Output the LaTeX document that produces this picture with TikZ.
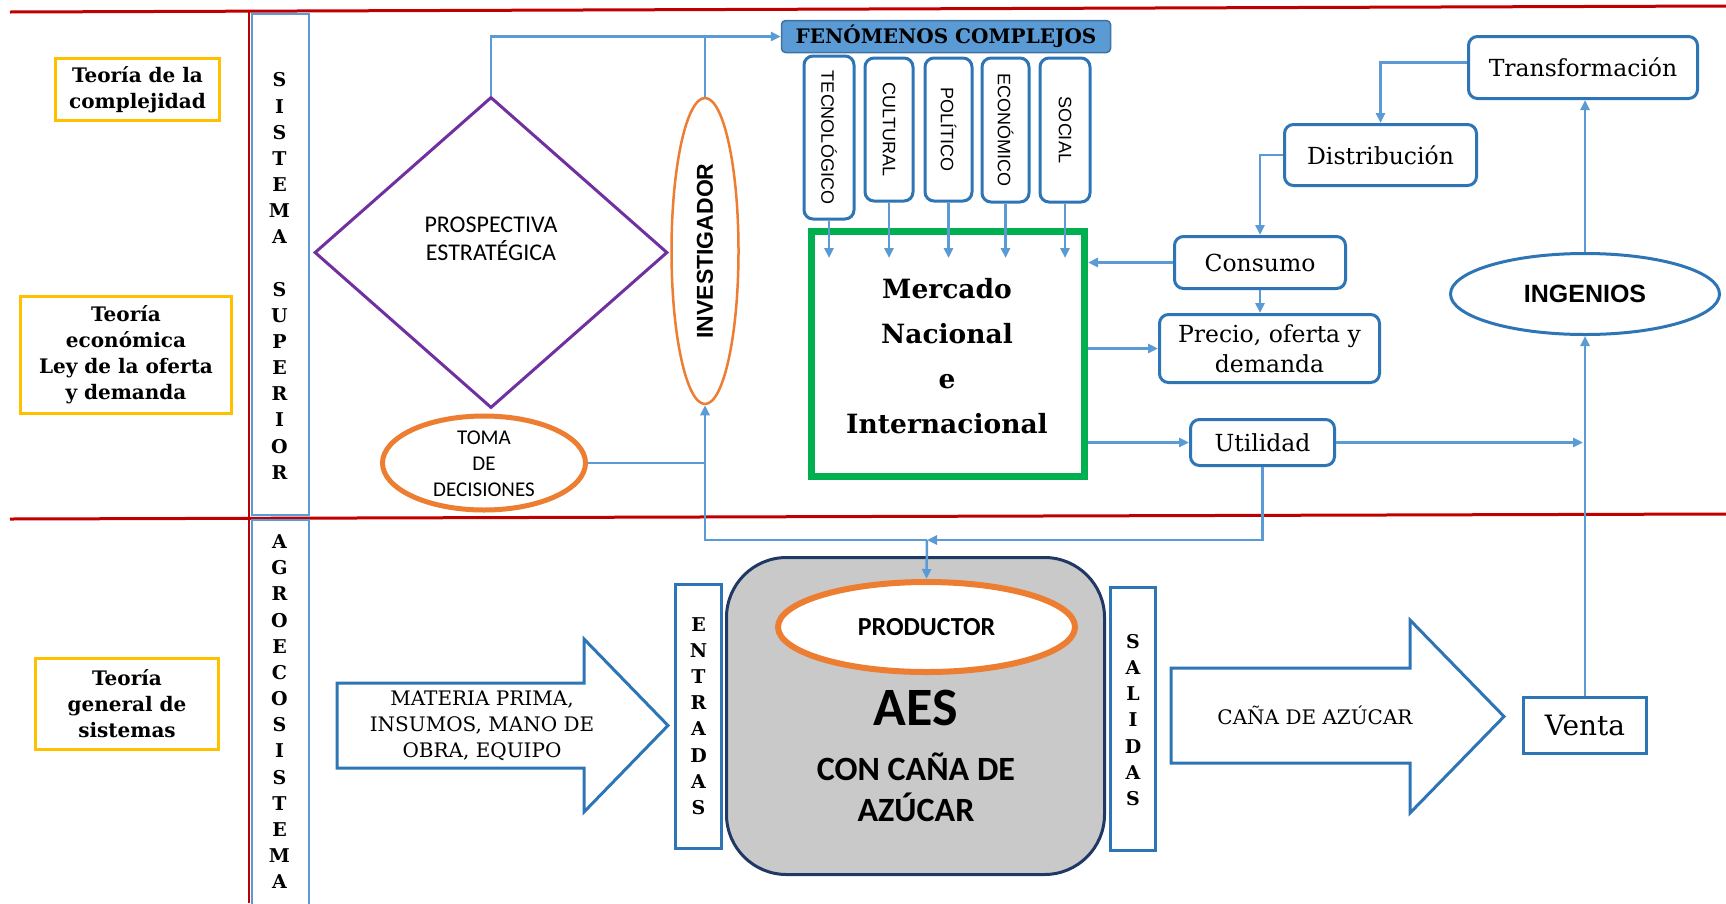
\documentclass[tikz,border=0pt]{standalone}
\usepackage{fontspec}
\usetikzlibrary{arrows.meta,shapes.geometric,calc}
\newfontfamily\slab{DejaVu Serif}
\newfontfamily\carl{Carlito}
\newfontfamily\arial{Liberation Sans}
\definecolor{redl}{HTML}{C00000}
\definecolor{gold}{HTML}{FFC000}
\definecolor{cline}{HTML}{5B9BD5}
\definecolor{bbord}{HTML}{2E75B6}
\definecolor{grn}{HTML}{00B050}
\definecolor{purp}{HTML}{7030A0}
\definecolor{orng}{HTML}{ED7D31}
\definecolor{navy}{HTML}{203864}
\definecolor{aesgray}{HTML}{C9C9C9}
\definecolor{fenfill}{HTML}{5B9BD5}
\definecolor{fenbord}{HTML}{41719C}
\tikzset{
  conn/.style={draw=cline, line width=2.5pt},
  arr/.style={conn, -{Triangle[length=10pt,width=9pt]}},
  ybox/.style={draw=gold, line width=3pt, inner sep=0pt, align=center, font=\slab\bfseries\fontsize{20}{26}\selectfont},
  colbox/.style={draw=cline, line width=2pt, inner sep=0pt},
  iobox/.style={draw=bbord, line width=3pt, inner sep=0pt},
  letters/.style={align=center, inner sep=0pt, font=\slab\bfseries\fontsize{19}{26.15}\selectfont},
  rbox/.style={draw=bbord, line width=3pt, rounded corners=9pt, fill=white, inner sep=0pt, align=center, font=\slab\fontsize{23.5}{30}\selectfont},
  tall/.style={draw=bbord, line width=3pt, rounded corners=9pt, rotate=-90, inner sep=0pt, font=\arial\fontsize{18}{20}\selectfont},
  bigarrow/.style={draw=bbord, line width=3pt, fill=white, line join=miter},
  txt/.style={inner sep=0pt, align=center},
}
\begin{document}
\begin{tikzpicture}[x=1pt,y=-1pt]
\fill[white] (0,0) rectangle (1726,903);
\useasboundingbox (0,0) rectangle (1726,903);

% level separators
\draw[redl, line width=3pt] (10,12) -- (1726,6);
\draw[redl, line width=3pt] (10,519) -- (1726,514);
\draw[redl, line width=2pt] (248.5,12) -- (248.5,903);

% theories
\node[ybox, minimum width=164pt, minimum height=62pt] (teo1) at (137.5,89.5) {Teoría de la\\complejidad};
\node[ybox, minimum width=211pt, minimum height=117pt] (teo2) at (126,355) {Teoría\\económica\\Ley de la oferta\\y demanda};
\node[ybox, minimum width=183pt, minimum height=91pt] (teo3) at (127,704) {Teoría\\general de\\sistemas};

% system columns
\node[colbox, minimum width=57pt, minimum height=501pt] (sup) at (280,264) {};
\node[letters] (supt) at (279.5,276) {S\\I\\S\\T\\E\\M\\A\\[26.15pt]S\\U\\P\\E\\R\\I\\O\\R};
\node[colbox, minimum width=57pt, minimum height=386pt] (agro) at (280,713) {};
\node[letters] (agrot) at (279.5,711.7) {A\\G\\R\\O\\E\\C\\O\\S\\I\\S\\T\\E\\M\\A};

% upper system
\node[diamond, draw=purp, line width=3pt, minimum width=353pt, minimum height=311pt, inner sep=0pt, aspect=1.135] (prosp) at (491,252.5) {};
\node[txt, font=\carl\fontsize{24}{28}\selectfont] (prospt) at (491,239) {PROSPECTIVA\\ESTRATÉGICA};

\node[ellipse, draw=orng, line width=2.5pt, minimum width=67pt, minimum height=306pt, inner sep=0pt] (inv) at (705,251) {};
\node[txt, rotate=90, font=\arial\bfseries\fontsize{23}{26}\selectfont] (invt) at (705,251) {INVESTIGADOR};

\node[ellipse, draw=orng, line width=5pt, minimum width=203pt, minimum height=94pt, inner sep=0pt] (toma) at (484,463) {};
\node[txt, font=\carl\fontsize{21}{26}\selectfont] (tomat) at (484,464) {TOMA\\DE\\DECISIONES};

\node[draw=fenbord, fill=fenfill, line width=1.5pt, rounded corners=4pt, minimum width=329pt, minimum height=32pt, inner sep=0pt, font=\slab\bfseries\fontsize{20}{22}\selectfont] (fen) at (946,36.5) {FENÓMENOS COMPLEJOS};

\node[tall, minimum width=163pt, minimum height=50pt] (tec) at (829,137.5) {TECNOLÓGICO};
\node[tall, minimum width=143pt, minimum height=48pt] (cul) at (889,129.5) {CULTURAL};
\node[tall, minimum width=143pt, minimum height=47pt] (pol) at (948.5,129.5) {POLÍTICO};
\node[tall, minimum width=144pt, minimum height=47pt] (eco) at (1005.5,130) {ECONÓMICO};
\node[tall, minimum width=144pt, minimum height=50pt] (soc) at (1065,130) {SOCIAL};

\node[draw=grn, line width=7pt, minimum width=273pt, minimum height=245pt, inner sep=0pt] (merc) at (948,354) {};
\node[txt, font=\slab\bfseries\fontsize{26.5}{45}\selectfont] (merct) at (947,356) {Mercado\\Nacional\\e\\Internacional};

\node[rbox, minimum width=171pt, minimum height=52pt] (cons) at (1260,262.5) {Consumo};
\node[rbox, minimum width=220pt, minimum height=68pt] (prec) at (1269.5,348.5) {Precio, oferta y\\demanda};
\node[rbox, minimum width=144pt, minimum height=46pt] (util) at (1262.5,442.5) {Utilidad};
\node[rbox, minimum width=192pt, minimum height=61pt] (dist) at (1380.5,155) {Distribución};
\node[rbox, minimum width=229pt, minimum height=62pt] (trans) at (1583,67.5) {Transformación};
\node[ellipse, draw=bbord, line width=3pt, minimum width=269pt, minimum height=81pt, inner sep=0pt, font=\arial\bfseries\fontsize{25}{28}\selectfont] (ing) at (1585,294) {INGENIOS};
\node[draw=bbord, line width=3pt, minimum width=123pt, minimum height=56pt, inner sep=0pt, font=\slab\fontsize{28}{32}\selectfont] (venta) at (1585,725.5) {Venta};

% lower system
\draw[bigarrow] (337,683) -- (584,683) -- (584,639) -- (668,725.5) -- (584,812) -- (584,768) -- (337,768) -- cycle;
\node[txt, font=\slab\fontsize{20}{26}\selectfont] (inp) at (482,726) {MATERIA PRIMA,\\INSUMOS, MANO DE\\OBRA, EQUIPO};
\draw[bigarrow] (1171,668) -- (1410,668) -- (1410,620) -- (1504,716.5) -- (1410,813) -- (1410,763) -- (1171,763) -- cycle;
\node[txt, font=\slab\fontsize{20}{26}\selectfont] (outp) at (1315,715) {CAÑA DE AZÚCAR};

\node[iobox, minimum width=46pt, minimum height=264pt] (ent) at (698.5,716.5) {};
\node[letters] (entt) at (698.5,716) {E\\N\\T\\R\\A\\D\\A\\S};
\node[draw=navy, fill=aesgray, line width=3pt, rounded corners=60pt, minimum width=378pt, minimum height=317pt, inner sep=0pt] (aes) at (915.5,716) {};
\node[ellipse, draw=orng, fill=white, line width=6pt, minimum width=297pt, minimum height=90pt, inner sep=0pt, font=\carl\bfseries\fontsize{26}{30}\selectfont] (prod) at (926.5,627) {PRODUCTOR};
\node[txt, font=\carl\bfseries\fontsize{54}{60}\selectfont] (aest) at (916,708) {AES};
\node[txt, font=\carl\bfseries\fontsize{34}{41}\selectfont] (aessub) at (916,787.5) {CON CAÑA DE\\AZÚCAR};
\node[iobox, minimum width=45pt, minimum height=263pt] (sal) at (1133,719) {};
\node[letters] (salt) at (1133,720) {S\\A\\L\\I\\D\\A\\S};

% connectors
\draw[arr] (prosp.north) |- (fen.west);
\draw[conn] (inv.north) -- (inv.north |- fen.west);
\coordinate (mtop) at (0,258);
\foreach \bx in {tec,cul,pol,eco,soc} \draw[arr] (\bx.east) -- (\bx.east |- mtop);
\draw[arr] (cons.west) -- (cons.west -| merc.east);
\draw[arr] (cons.south) -- (cons.south |- prec.north);
\draw[arr] (merc.east |- prec.west) -- (prec.west);
\draw[arr] (merc.east |- util.west) -- (util.west);
\coordinate (ingline) at (1583,0);
\draw[arr] (util.east) -- (util.east -| ingline);
\draw[arr] (venta.north) -- (ing.south);
\draw[arr] (ing.north) -- (ing.north |- trans.south);
\draw[arr] ([yshift=5pt]trans.west) -| (dist.north);
\draw[arr] (dist.west) -| (cons.north);
\coordinate (jn) at (927,540);
\draw[arr] (util.south) |- (jn);
\draw[arr] (jn) -| (inv.south);
\draw[conn] (toma.east) -- (toma.east -| inv.south);
\draw[arr] (jn) -- (prod.north);
\end{tikzpicture}
\end{document}
